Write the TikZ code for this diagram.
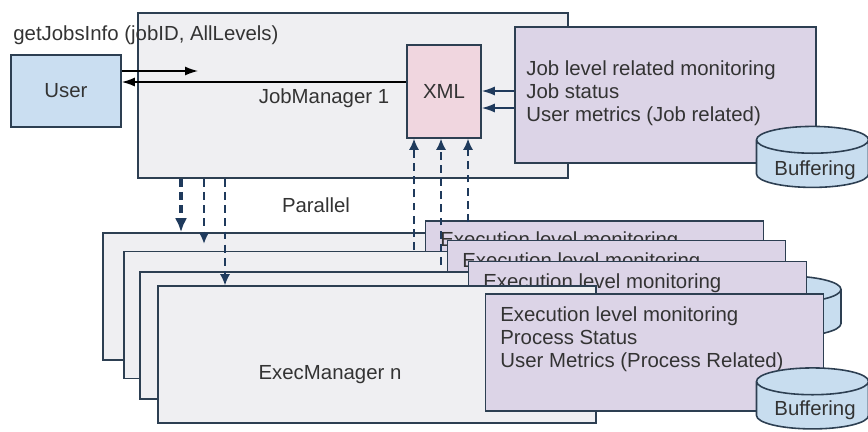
\documentclass[tikz,border=0pt]{standalone}
\usepackage{fontspec}
\setmainfont{Liberation Sans}
\usetikzlibrary{arrows.meta,shapes.geometric}

\definecolor{edge}{HTML}{2D3F52}
\definecolor{arrowc}{HTML}{1F3A5C}
\definecolor{mgrfill}{HTML}{EFEFF2}
\definecolor{userfill}{HTML}{CADEF1}
\definecolor{xmlfill}{HTML}{F0D6DF}
\definecolor{monfill}{HTML}{DCD4E7}
\definecolor{storefill}{HTML}{C8DDEF}
\definecolor{txt}{HTML}{333333}

\begin{document}
\begin{tikzpicture}[font=\fontsize{11.6}{13}\selectfont, text=txt,
	box/.style={draw=edge, line width=0.9pt, rectangle, inner sep=0},
	mon/.style={box, fill=monfill, minimum width=6.76cm, minimum height=2.34cm},
	montext/.style={anchor=west, align=left, inner sep=0},
	store/.style={cylinder, shape border rotate=90, aspect=0.33, draw=edge, line width=0.9pt, fill=storefill, minimum width=2.24cm, minimum height=1.22cm, inner sep=0},
	arr/.style={-{Latex[length=2.6mm,width=1.8mm]}, line width=0.8pt},
	dasharr/.style={-{Latex[length=2.2mm,width=2mm]}, arrowc, line width=0.8pt, dash pattern=on 4.5pt off 3pt}]

	\useasboundingbox (0,0) rectangle (17.36,-8.62);

	% job level
	\node[box, fill=mgrfill, minimum width=8.6cm, minimum height=3.3cm] (jm) at (7.06,-1.91) {};
	\node (jmname) at (6.48,-1.96) {JobManager 1};
	\node[box, fill=userfill, minimum width=2.2cm, minimum height=1.44cm] (user) at (1.32,-1.82) {User};
	\node[anchor=west, inner sep=0] (call) at (0.26,-0.70) {getJobsInfo (jobID, AllLevels)};
	\node[box, fill=xmlfill, minimum width=1.48cm, minimum height=1.86cm] (xml) at (8.88,-1.83) {XML};
	\node[box, fill=monfill, minimum width=6.02cm, minimum height=2.72cm] (jobmon) at (13.31,-1.90) {};
	\node[montext] (jobmontext) at (10.52,-1.87) {Job level related monitoring\\Job status\\User metrics (Job related)};
	\node[store] (jobbuf) at (16.25,-3.28) {\phantom{Buffering}};
	\node (jobbuftext) at (16.30,-3.40) {Buffering};

	\coordinate (req) at (3.96,-1.42);
	\draw[arr] (user.east |- req) -- (req);
	\draw[arr] (xml.west |- 0,-1.64) -- (user.east |- 0,-1.64);
	\draw[arr, arrowc] (jobmon.west |- 0,-1.82) -- (xml.east |- 0,-1.82);
	\draw[arr, arrowc] (jobmon.west |- 0,-2.16) -- (xml.east |- 0,-2.16);

	\node (parallel) at (6.32,-4.10) {Parallel};

	% execution level
	\node[box, fill=mgrfill, minimum width=8.76cm, minimum height=2.54cm] (e1) at (6.44,-5.93) {};
	\node[mon] (m1) at (11.89,-5.59) {};
	\node[montext] (m1text) at (8.80,-4.82) {Execution level monitoring};
	\node[box, fill=mgrfill, minimum width=8.76cm, minimum height=2.54cm] (e2) at (6.86,-6.30) {};
	\node[mon] (m2) at (12.33,-5.98) {};
	\node[montext] (m2text) at (9.24,-5.25) {Execution level monitoring};
	\node[box, fill=mgrfill, minimum width=8.76cm, minimum height=2.54cm] (e3) at (7.18,-6.71) {};
	\node[store] (e3buf) at (15.70,-6.27) {\phantom{Buffering}};
	\node[mon] (m3) at (12.75,-6.40) {};
	\node[montext] (m3text) at (9.66,-5.67) {Execution level monitoring};
	\node[box, fill=mgrfill, minimum width=8.76cm, minimum height=2.74cm] (e4) at (7.54,-7.09) {};
	\node (execname) at (6.60,-7.50) {ExecManager n};
	\node[mon] (m4) at (13.09,-7.05) {};
	\node[montext] (m4text) at (10.00,-6.78) {Execution level monitoring\\Process Status\\User Metrics (Process Related)};
	\node[store] (execbuf) at (16.25,-8.11) {\phantom{Buffering}};
	\node (execbuftext) at (16.30,-8.20) {Buffering};

	% dispatch and results
	\draw[dasharr, line width=1.8pt, -{Latex[length=2.8mm,width=2.4mm]}] (jm.south -| 3.62,0) -- (e1.north -| 3.62,0);
	\draw[dasharr, shorten >=4pt] (jm.south -| 4.08,0) -- (e2.north -| 4.08,0);
	\draw[dasharr] (jm.south -| 4.50,0) -- (e4.north -| 4.50,0);

	\coordinate (up1) at (8.28,-5.00);
	\coordinate (up2) at (8.82,-5.30);
	\coordinate (up3) at (9.36,-4.44);
	\draw[dasharr] (up1) -- (xml.south -| up1);
	\draw[dasharr] (up2) -- (xml.south -| up2);
	\draw[dasharr] (up3) -- (xml.south -| up3);

\end{tikzpicture}
\end{document}
